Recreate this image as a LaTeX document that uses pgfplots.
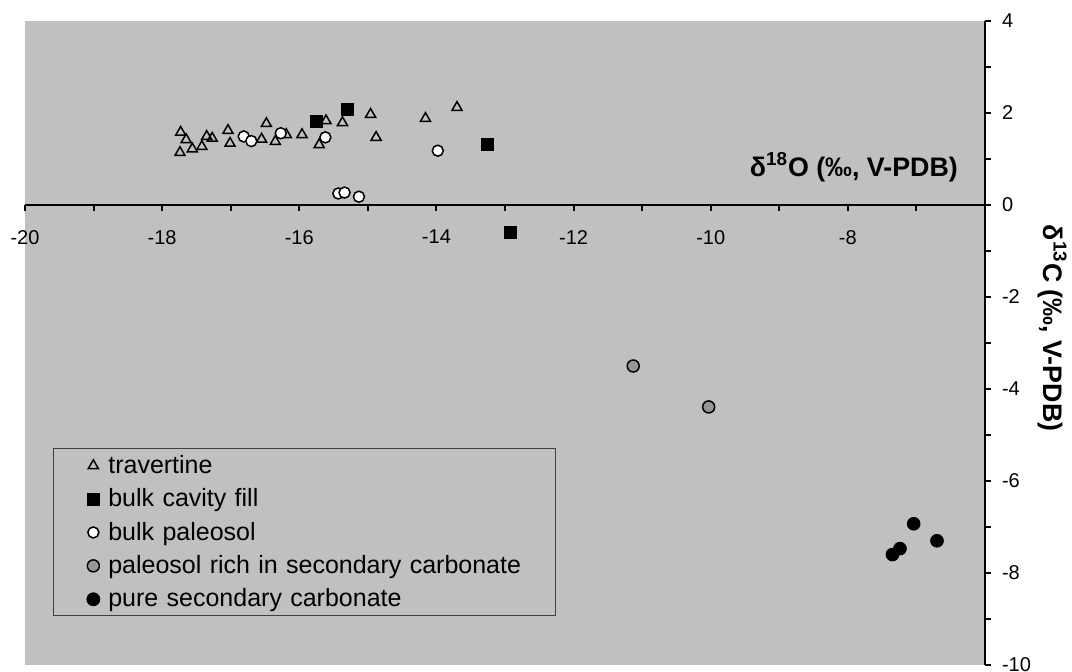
\documentclass[border=0pt]{standalone}
\usepackage{fontspec}
\setmainfont{Liberation Sans}
\usepackage{pgfplots}
\pgfplotsset{compat=1.18}
\definecolor{plotbg}{RGB}{192,192,192}
\definecolor{midgray}{RGB}{150,150,150}
\definecolor{boxgray}{RGB}{64,64,64}

% marks only, legend shows a single mark
\pgfplotsset{mk/.style={only marks,
  legend image code/.code={\path[draw=none] (-20pt,-8.1pt) rectangle (7.5pt,8.6pt);
    \draw[##1] plot coordinates {(0pt,0pt)};}}}

\begin{document}
\begin{tikzpicture}
\begin{axis}[
  scale only axis, width=480pt, height=322pt,
  xmin=-20, xmax=-6, ymin=-10, ymax=4,
  axis x line*=middle, axis y line*=right,
  axis background/.style={fill=plotbg},
  axis line style={line width=1pt, black},
  xtick={-20,-18,...,-6}, ytick={-10,-8,...,4},
  minor x tick num=1, minor y tick num=1,
  tick align=outside,
  major tick length=3pt, minor tick length=3pt,
  tick style={line width=1pt, black},
  tick label style={font=\fontsize{10}{12}\selectfont},
  /pgf/number format/assume math mode=true,
  xticklabel style={yshift=-6pt},
  yticklabel style={xshift=2pt},
  xlabel={δ\textsuperscript{18}O (‰, V-PDB)},
  ylabel={δ\textsuperscript{13}C (‰, V-PDB)},
  every axis x label/.style={at={(axis description cs:0.979,0.759)}, anchor=base east,
    font=\bfseries\fontsize{13.4}{15}\selectfont},
  every axis y label/.style={at={(axis description cs:1.070,0.523)}, anchor=center,
    rotate=-90, font=\bfseries\fontsize{13.4}{15}\selectfont},
  legend cell align=left,
  legend style={at={(axis description cs:0.029,0.337)}, anchor=north west,
    draw=boxgray, line width=0.5pt, fill=plotbg,
    font=\fontsize{12.5}{15}\selectfont,
    inner sep=0pt, row sep=0pt, nodes={inner sep=0pt, draw=none},
    /tikz/every even column/.append style={text width=223.5pt}},
]

\addplot[mk, black, mark=triangle, mark size=2.9pt, line width=0.75pt] coordinates {
  (-17.73,1.58) (-17.65,1.42) (-17.74,1.14) (-17.56,1.22) (-17.42,1.27)
  (-17.35,1.49) (-17.27,1.45) (-17.04,1.62) (-17.01,1.34) (-16.55,1.43)
  (-16.48,1.77) (-16.35,1.38) (-16.19,1.53) (-15.96,1.53) (-15.71,1.31)
  (-15.61,1.83) (-15.37,1.79) (-14.96,1.97) (-14.88,1.47) (-14.16,1.88)
  (-13.70,2.12)
};
\addplot[mk, black, mark=square*, mark size=3pt] coordinates {
  (-15.75,1.81) (-15.30,2.08) (-13.26,1.31) (-12.92,-0.59)
};
\addplot[mk, black, mark=*, mark size=2.75pt, line width=0.75pt,
  mark options={fill=white}] coordinates {
  (-16.81,1.49) (-16.70,1.39) (-16.27,1.56) (-15.62,1.47) (-13.98,1.18)
  (-15.43,0.25) (-15.34,0.27) (-15.13,0.18)
};
\addplot[mk, black, mark=*, mark size=3pt, line width=0.75pt,
  mark options={fill=midgray}] coordinates {
  (-11.13,-3.50) (-10.03,-4.39)
};
\addplot[mk, black, mark=*, mark size=3.2pt] coordinates {
  (-7.04,-6.93) (-6.70,-7.30) (-7.24,-7.47) (-7.35,-7.60)
};
\legend{travertine, bulk cavity fill, bulk paleosol,
  paleosol rich in secondary carbonate, pure secondary carbonate}
\end{axis}
\pgfresetboundingbox
\path[use as bounding box] ([shift={(-12.5pt,-3.5pt)}]current axis.south west)
  rectangle ([shift={(43.5pt,10.5pt)}]current axis.north east);
\end{tikzpicture}
\end{document}
